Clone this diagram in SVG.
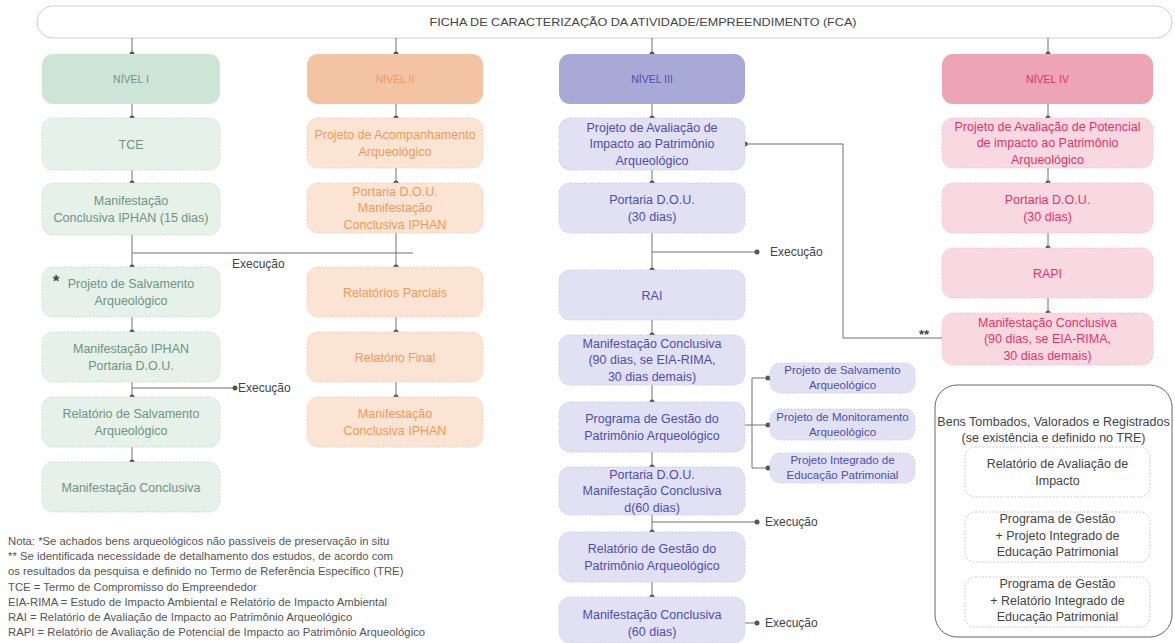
<svg xmlns="http://www.w3.org/2000/svg" width="1175" height="643" viewBox="0 0 1175 643">
<style>
text{font-family:"Liberation Sans",Arial,sans-serif;text-anchor:middle}
.ln{stroke:#707070;stroke-width:1;fill:none}
.dot{fill:#555}
.t{font-size:12.5px}
.lv{font-size:10.5px}
.sm{font-size:11.5px}
.g0{fill:#cde5d6}
.g1{fill:#e5f1e9;stroke:#c6d9cc;stroke-width:.8;stroke-dasharray:2 1.5}
.gt{fill:#6f9483}
.o0{fill:#f3c3a4}
.o1{fill:#fce4d5;stroke:#eecab3;stroke-width:.8;stroke-dasharray:2 1.5}
.ot{fill:#f39a55}
.p0{fill:#a9a9d8}
.p1{fill:#e1e1f3;stroke:#c6c6e2;stroke-width:.8;stroke-dasharray:2 1.5}
.pt{fill:#4e4eaa}
.r0{fill:#eda4b4}
.r1{fill:#f9d9e1;stroke:#efbdca;stroke-width:.8;stroke-dasharray:2 1.5}
.rt{fill:#e5336b}
.w1{fill:#fff;stroke:#bdbdbd;stroke-width:.8;stroke-dasharray:2 1.5}
.dk{fill:#444}
.note{font-size:11.3px;fill:#555;text-anchor:start}
</style>

<g id="banner">
<rect x="37" y="6" width="1135" height="32" rx="16" fill="#fff" stroke="#cfcfcf"/>
<text x="643" y="26" class="dk" style="font-size:11.5px" textLength="427" lengthAdjust="spacingAndGlyphs">FICHA DE CARACTERIZAÇÃO DA ATIVIDADE/EMPREENDIMENTO (FCA)</text>
</g>

<g id="connectors">
<path class="ln" d="M132 38V54M396 38V54M652 38V54M1048 38V54"/>
<path class="ln" d="M132 104V118M132 170V183M132 235V267M132 317V332M132 382V397M132 447V462"/>
<path class="ln" d="M132 253H413M132 388H235"/>
<path class="ln" d="M396 104V118M396 168V183M396 233V267M396 317V332M396 382V397"/>
<path class="ln" d="M652 104V118M652 170V183M652 233V270M652 320V335M652 385V402M652 452V467M652 515V532M652 582V597"/>
<path class="ln" d="M652 252H757M652 522H757M745 623H757"/>
<path class="ln" d="M745 425H752M752 378V468M752 378H770M752 425H770M752 468H770"/>
<path class="ln" d="M942 338H843V144H745"/>
<path class="ln" d="M1048 104V118M1048 168V183M1048 233V248M1048 298V313"/>
<path class="ln" d="M1060 497V512M1060 562V577"/>
<g class="dot">
<circle cx="132" cy="54" r="2.5"/><circle cx="396" cy="54" r="2.5"/><circle cx="652" cy="54" r="2.5"/><circle cx="1048" cy="54" r="2.5"/>
<circle cx="132" cy="118" r="2.5"/><circle cx="132" cy="183" r="2.5"/><circle cx="132" cy="267" r="2.5"/><circle cx="132" cy="332" r="2.5"/><circle cx="132" cy="397" r="2.5"/><circle cx="132" cy="462" r="2.5"/>
<circle cx="235" cy="388" r="2.5"/>
<circle cx="396" cy="118" r="2.5"/><circle cx="396" cy="183" r="2.5"/><circle cx="396" cy="267" r="2.5"/><circle cx="396" cy="332" r="2.5"/><circle cx="396" cy="397" r="2.5"/>
<circle cx="652" cy="118" r="2.5"/><circle cx="652" cy="183" r="2.5"/><circle cx="652" cy="270" r="2.5"/><circle cx="652" cy="335" r="2.5"/><circle cx="652" cy="402" r="2.5"/><circle cx="652" cy="467" r="2.5"/><circle cx="652" cy="532" r="2.5"/><circle cx="652" cy="597" r="2.5"/>
<circle cx="757" cy="252" r="2.5"/><circle cx="757" cy="522" r="2.5"/><circle cx="757" cy="623" r="2.5"/>
<circle cx="768" cy="378" r="2.5"/><circle cx="768" cy="425" r="2.5"/><circle cx="768" cy="468" r="2.5"/>
<circle cx="745" cy="144" r="2.5"/>
<circle cx="1048" cy="118" r="2.5"/><circle cx="1048" cy="183" r="2.5"/><circle cx="1048" cy="248" r="2.5"/><circle cx="1048" cy="313" r="2.5"/>
<circle cx="1060" cy="512" r="2.5"/><circle cx="1060" cy="577" r="2.5"/>
</g>
<g class="dk" style="font-size:12px">
<text x="232" y="268" style="text-anchor:start">Execução</text>
<text x="238" y="392" style="text-anchor:start">Execução</text>
<text x="770" y="256" style="text-anchor:start">Execução</text>
<text x="765" y="526" style="text-anchor:start">Execução</text>
<text x="765" y="627" style="text-anchor:start">Execução</text>
</g>
<text x="924" y="339" class="dk" style="font-size:13px;font-weight:bold">**</text>
</g>

<g id="n1">
<rect class="g0" x="42" y="54" width="178" height="50" rx="11"/>
<text class="lv gt" x="131" y="83">NÍVEL I</text>
</g>
<g id="n1-tce"><rect class="g1" x="42" y="118" width="178" height="52" rx="11"/><text class="t gt" x="131" y="148.5">TCE</text></g>
<g id="n1-manif"><rect class="g1" x="42" y="183" width="178" height="52" rx="11"/><text class="t gt" x="131" y="205">Manifestação</text><text class="t gt" x="131" y="221.5">Conclusiva IPHAN (15 dias)</text></g>
<g id="n1-salv"><rect class="g1" x="42" y="267" width="178" height="50" rx="11"/><text class="dk" x="56" y="287" style="font-size:17px;font-weight:bold">*</text><text class="t gt" x="131" y="288">Projeto de Salvamento</text><text class="t gt" x="131" y="304.5">Arqueológico</text></g>
<g id="n1-iphan"><rect class="g1" x="42" y="332" width="178" height="50" rx="11"/><text class="t gt" x="131" y="353">Manifestação IPHAN</text><text class="t gt" x="131" y="369.5">Portaria D.O.U.</text></g>
<g id="n1-rel"><rect class="g1" x="42" y="397" width="178" height="50" rx="11"/><text class="t gt" x="131" y="418">Relatório de Salvamento</text><text class="t gt" x="131" y="434.5">Arqueológico</text></g>
<g id="n1-concl"><rect class="g1" x="42" y="462" width="178" height="50" rx="11"/><text class="t gt" x="131" y="491.5">Manifestação Conclusiva</text></g>

<g id="n2">
<rect class="o0" x="307" y="54" width="176" height="50" rx="11"/>
<text class="lv ot" x="395" y="83">NÍVEL II</text>
</g>
<g id="n2-acomp"><rect class="o1" x="307" y="118" width="176" height="50" rx="11"/><text class="t ot" x="395" y="139">Projeto de Acompanhamento</text><text class="t ot" x="395" y="155.5">Arqueológico</text></g>
<g id="n2-port"><rect class="o1" x="307" y="183" width="176" height="50" rx="11"/><text class="t ot" x="395" y="195.5">Portaria D.O.U.</text><text class="t ot" x="395" y="212">Manifestação</text><text class="t ot" x="395" y="228.5">Conclusiva IPHAN</text></g>
<g id="n2-parc"><rect class="o1" x="307" y="267" width="176" height="50" rx="11"/><text class="t ot" x="395" y="296.5">Relatórios Parciais</text></g>
<g id="n2-final"><rect class="o1" x="307" y="332" width="176" height="50" rx="11"/><text class="t ot" x="395" y="361.5">Relatório Final</text></g>
<g id="n2-concl"><rect class="o1" x="307" y="397" width="176" height="50" rx="11"/><text class="t ot" x="395" y="418">Manifestação</text><text class="t ot" x="395" y="434.5">Conclusiva IPHAN</text></g>

<g id="n3">
<rect class="p0" x="559" y="54" width="186" height="50" rx="11"/>
<text class="lv pt" x="652" y="83">NÍVEL III</text>
</g>
<g id="n3-aval"><rect class="p1" x="559" y="118" width="186" height="52" rx="11"/><text class="t pt" x="652" y="131.5">Projeto de Avaliação de</text><text class="t pt" x="652" y="148">Impacto ao Patrimônio</text><text class="t pt" x="652" y="164.5">Arqueológico</text></g>
<g id="n3-port"><rect class="p1" x="559" y="183" width="186" height="50" rx="11"/><text class="t pt" x="652" y="204">Portaria D.O.U.</text><text class="t pt" x="652" y="220.5">(30 dias)</text></g>
<g id="n3-rai"><rect class="p1" x="559" y="270" width="186" height="50" rx="11"/><text class="t pt" x="652" y="299.5">RAI</text></g>
<g id="n3-manif"><rect class="p1" x="559" y="335" width="186" height="50" rx="11"/><text class="t pt" x="652" y="347.5">Manifestação Conclusiva</text><text class="t pt" x="652" y="364">(90 dias, se EIA-RIMA,</text><text class="t pt" x="652" y="380.5">30 dias demais)</text></g>
<g id="n3-prog"><rect class="p1" x="559" y="402" width="186" height="50" rx="11"/><text class="t pt" x="652" y="423">Programa de Gestão do</text><text class="t pt" x="652" y="439.5">Patrimônio Arqueológico</text></g>
<g id="n3-port60"><rect class="p1" x="559" y="467" width="186" height="48" rx="11"/><text class="t pt" x="652" y="478.5">Portaria D.O.U.</text><text class="t pt" x="652" y="495">Manifestação Conclusiva</text><text class="t pt" x="652" y="511.5">d(60 dias)</text></g>
<g id="n3-relg"><rect class="p1" x="559" y="532" width="186" height="50" rx="11"/><text class="t pt" x="652" y="553">Relatório de Gestão do</text><text class="t pt" x="652" y="569.5">Patrimônio Arqueológico</text></g>
<g id="n3-concl"><rect class="p1" x="559" y="597" width="186" height="46" rx="11"/><text class="t pt" x="652" y="619">Manifestação Conclusiva</text><text class="t pt" x="652" y="635.5">(60 dias)</text></g>
<g id="s-salv"><rect class="p1" x="770" y="363" width="145" height="30" rx="10"/><text class="sm pt" x="842.5" y="374">Projeto de Salvamento</text><text class="sm pt" x="842.5" y="389">Arqueológico</text></g>
<g id="s-mon"><rect class="p1" x="770" y="409" width="145" height="31" rx="10"/><text class="sm pt" x="842.5" y="420.5">Projeto de Monitoramento</text><text class="sm pt" x="842.5" y="435.5">Arqueológico</text></g>
<g id="s-edu"><rect class="p1" x="770" y="453" width="145" height="30" rx="10"/><text class="sm pt" x="842.5" y="464">Projeto Integrado de</text><text class="sm pt" x="842.5" y="479">Educação Patrimonial</text></g>

<g id="n4">
<rect class="r0" x="942" y="54" width="211" height="50" rx="11"/>
<text class="lv rt" x="1047.5" y="83">NÍVEL IV</text>
</g>
<g id="n4-aval"><rect class="r1" x="942" y="118" width="211" height="50" rx="11"/><text class="t rt" x="1047.5" y="130.5">Projeto de Avaliação de Potencial</text><text class="t rt" x="1047.5" y="147">de impacto ao Patrimônio</text><text class="t rt" x="1047.5" y="163.5">Arqueológico</text></g>
<g id="n4-port"><rect class="r1" x="942" y="183" width="211" height="50" rx="11"/><text class="t rt" x="1047.5" y="204">Portaria D.O.U.</text><text class="t rt" x="1047.5" y="220.5">(30 dias)</text></g>
<g id="n4-rapi"><rect class="r1" x="942" y="248" width="211" height="50" rx="11"/><text class="t rt" x="1047.5" y="277.5">RAPI</text></g>
<g id="n4-manif"><rect class="r1" x="942" y="313" width="211" height="52" rx="11"/><text class="t rt" x="1047.5" y="326.5">Manifestação Conclusiva</text><text class="t rt" x="1047.5" y="343">(90 dias, se EIA-RIMA,</text><text class="t rt" x="1047.5" y="359.5">30 dias demais)</text></g>

<g id="bens">
<rect x="935" y="385" width="237" height="252" rx="22" fill="#fff" stroke="#666"/>
<text class="dk" x="1053.5" y="426" style="font-size:12.5px">Bens Tombados, Valorados e Registrados</text>
<text class="dk" x="1053.5" y="442" style="font-size:12.5px">(se existência e definido no TRE)</text>
</g>
<g id="bens-rai"><rect class="w1" x="965" y="447" width="185" height="50" rx="10"/><text class="t dk" x="1057.5" y="468">Relatório de Avaliação de</text><text class="t dk" x="1057.5" y="484.5">Impacto</text></g>
<g id="bens-prog1"><rect class="w1" x="965" y="512" width="185" height="50" rx="10"/><text class="t dk" x="1057.5" y="523">Programa de Gestão</text><text class="t dk" x="1057.5" y="539.5">+ Projeto Integrado de</text><text class="t dk" x="1057.5" y="556">Educação Patrimonial</text></g>
<g id="bens-prog2"><rect class="w1" x="965" y="577" width="185" height="50" rx="10"/><text class="t dk" x="1057.5" y="588">Programa de Gestão</text><text class="t dk" x="1057.5" y="604.5">+ Relatório Integrado de</text><text class="t dk" x="1057.5" y="621">Educação Patrimonial</text></g>

<g id="notes">
<text class="note" x="8" y="545">Nota: *Se achados bens arqueológicos não passíveis de preservação in situ</text>
<text class="note" x="8" y="560.2">** Se identificada necessidade de detalhamento dos estudos, de acordo com</text>
<text class="note" x="8" y="575.4">os resultados da pesquisa e definido no Termo de Referência Específico (TRE)</text>
<text class="note" x="8" y="590.6">TCE = Termo de Compromisso do Empreendedor</text>
<text class="note" x="8" y="605.8">EIA-RIMA = Estudo de Impacto Ambiental e Relatório de Impacto Ambiental</text>
<text class="note" x="8" y="621">RAI = Relatório de Avaliação de Impacto ao Patrimônio Arqueológico</text>
<text class="note" x="8" y="636.2">RAPI = Relatório de Avaliação de Potencial de Impacto ao Patrimônio Arqueológico</text>
</g>
</svg>
